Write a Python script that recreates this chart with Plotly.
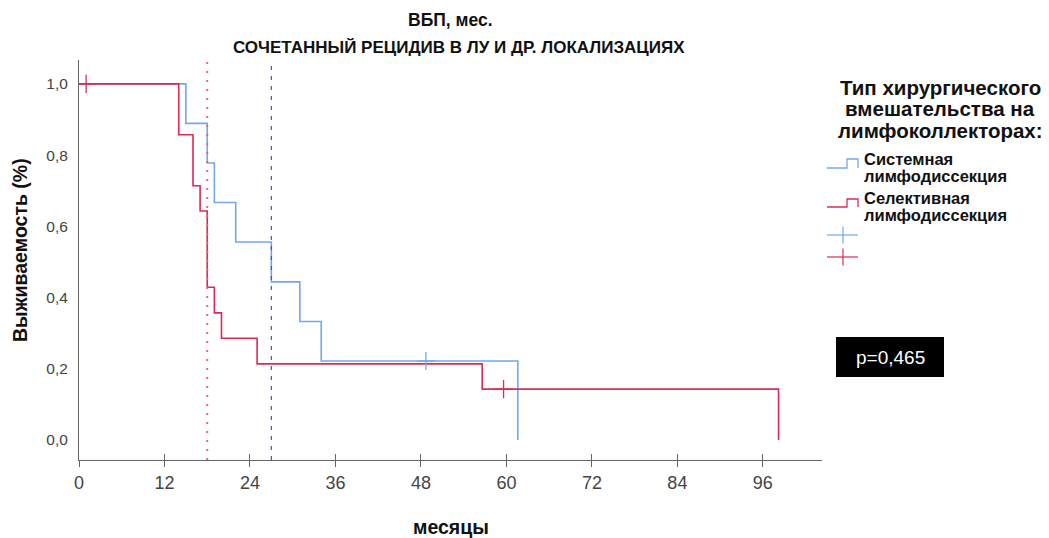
import plotly.graph_objects as go

# Kaplan-Meier step data (months, survival fraction)
sys_times = [0, 15, 18, 19, 22, 27, 31, 34, 61.6]
sys_surv = [1.0, 0.889, 0.778, 0.667, 0.556, 0.444, 0.333, 0.222, 0.0]
sys_cens_t = [48.7]
sys_cens_s = [0.222]

sel_times = [0, 14, 16, 17, 18, 19, 20, 25, 56.6, 98.2]
sel_surv = [1.0, 0.857, 0.714, 0.643, 0.429, 0.357, 0.286, 0.214, 0.143, 0.0]
sel_cens_t = [1.0, 59.6]
sel_cens_s = [1.0, 0.143]

# medians
sys_median = 27
sel_median = 18

x_ticks = [0, 12, 24, 36, 48, 60, 72, 84, 96]
y_ticks = [0.0, 0.2, 0.4, 0.6, 0.8, 1.0]

BLUE = "#72a9ec"
RED = "#dc2a55"
FONT = "Liberation Sans, Arial, sans-serif"

W, H = 1049, 538
L, R, T, B = 79, 822, 60, 460
X_RANGE = [0, 104.3]
Y_RANGE = [-0.056, 1.067]


def px(x):
    return (x - L) / (R - L)


def py(y):
    return (B - y) / (B - T)


fig = go.Figure()

fig.add_trace(go.Scatter(x=sys_times, y=sys_surv, mode="lines", line_shape="hv",
                         line=dict(color=BLUE, width=1.6), showlegend=False,
                         hoverinfo="skip"))
fig.add_trace(go.Scatter(x=sel_times, y=sel_surv, mode="lines", line_shape="hv",
                         line=dict(color=RED, width=1.6), showlegend=False,
                         hoverinfo="skip"))
fig.add_trace(go.Scatter(x=sys_cens_t, y=sys_cens_s, mode="markers",
                         marker=dict(symbol="cross-thin", size=13,
                                     line=dict(color=BLUE, width=1.3)),
                         showlegend=False))
fig.add_trace(go.Scatter(x=sel_cens_t, y=sel_cens_s, mode="markers",
                         marker=dict(symbol="cross-thin", size=13,
                                     line=dict(color=RED, width=1.3)),
                         showlegend=False))

# median reference lines
fig.add_trace(go.Scatter(x=[sel_median, sel_median], y=Y_RANGE, mode="lines",
                         line=dict(color="#f0607f", width=2, dash="2px,7px"),
                         showlegend=False))
fig.add_trace(go.Scatter(x=[sys_median, sys_median], y=Y_RANGE, mode="lines",
                         line=dict(color="#4455b0", width=1.2, dash="4px,6px"),
                         showlegend=False))

# second x axis to draw the tick marks above the axis line as well
fig.add_trace(go.Scatter(x=[0], y=[0], xaxis="x2", mode="markers",
                         marker=dict(opacity=0), showlegend=False,
                         hoverinfo="skip"))

annotations = [
    dict(text="<b>ВБП, мес.</b>", x=px(451), y=py(20), font=dict(size=17.5)),
    dict(text="<b>СОЧЕТАННЫЙ РЕЦИДИВ В ЛУ И ДР. ЛОКАЛИЗАЦИЯХ</b>",
         x=px(459), y=py(47), font=dict(size=17)),
    dict(text="<b>месяцы</b>", x=px(451), y=py(527), font=dict(size=19.5)),
    dict(text="<b>Выживаемость (%)</b>", x=px(20), y=py(250), textangle=-90,
         font=dict(size=19.5)),
    dict(text="<b>Тип хирургического</b>", x=px(940), y=py(87), font=dict(size=20.5)),
    dict(text="<b>вмешательства на</b>", x=px(940), y=py(108.5), font=dict(size=20.5)),
    dict(text="<b>лимфоколлекторах:</b>", x=px(940), y=py(130), font=dict(size=20.5)),
    dict(text="<b>Системная</b>", x=px(862), y=py(159), xanchor="left", font=dict(size=16.5)),
    dict(text="<b>лимфодиссекция</b>", x=px(862), y=py(176), xanchor="left", font=dict(size=16.5)),
    dict(text="<b>Селективная</b>", x=px(862), y=py(198), xanchor="left", font=dict(size=16.5)),
    dict(text="<b>лимфодиссекция</b>", x=px(862), y=py(215), xanchor="left", font=dict(size=16.5)),
    dict(text="p=0,465", x=px(890), y=py(357), font=dict(size=19, color="white")),
]
for a in annotations:
    a.setdefault("xanchor", "center")
    a.update(xref="paper", yref="paper", yanchor="middle", showarrow=False)
    a["font"].setdefault("color", "#111")
    a["font"]["family"] = FONT

shapes = []
# legend step symbols
for color, yl, yh in [(BLUE, 168, 159), (RED, 207, 199)]:
    pts = [(827, yl), (847, yl), (847, yh), (858, yh), (858, yl)]
    path = "M " + " L ".join(f"{px(a)},{py(b)}" for a, b in pts)
    shapes.append(dict(type="path", path=path, xref="paper", yref="paper",
                       line=dict(color=color, width=1.3)))
# legend censoring crosses
for color, yc in [(BLUE, 235), (RED, 257)]:
    shapes.append(dict(type="line", xref="paper", yref="paper",
                       x0=px(827), x1=px(858), y0=py(yc), y1=py(yc),
                       line=dict(color=color, width=1.2)))
    shapes.append(dict(type="line", xref="paper", yref="paper",
                       x0=px(843), x1=px(843), y0=py(yc - 8.5), y1=py(yc + 8.5),
                       line=dict(color=color, width=1.2)))
# p-value box
shapes.append(dict(type="rect", xref="paper", yref="paper", layer="below",
                   x0=px(836), x1=px(944), y0=py(337), y1=py(377),
                   fillcolor="black", line=dict(width=0)))

axis_common = dict(showgrid=False, zeroline=False)
fig.update_layout(
    width=W, height=H,
    margin=dict(l=L, r=W - R, t=T, b=H - B, pad=0),
    paper_bgcolor="white", plot_bgcolor="white",
    separators=", ",
    font=dict(family=FONT, color="#444", size=15),
    xaxis=dict(range=X_RANGE, tickvals=x_ticks, ticks="outside", ticklen=6,
               tickcolor="#666", showline=True, linecolor="#666", linewidth=1,
               tickfont=dict(size=18, color="#444"), **axis_common),
    xaxis2=dict(range=X_RANGE, overlaying="x", anchor="y", side="bottom",
                tickvals=x_ticks, ticks="inside", ticklen=6, tickcolor="#666",
                showticklabels=False, showline=False, **axis_common),
    yaxis=dict(range=Y_RANGE, tickvals=y_ticks, tickformat=".1f", ticks="",
               showline=True, linecolor="#666", linewidth=1,
               ticklabelstandoff=7, tickfont=dict(size=15.5, color="#444"),
               **axis_common),
    annotations=annotations,
    shapes=shapes,
    showlegend=False,
)

fig.write_html("out.html")
